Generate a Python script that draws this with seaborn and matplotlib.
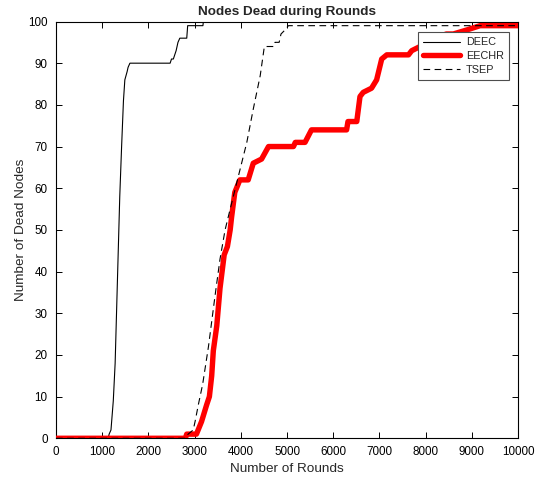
import matplotlib
matplotlib.use("Agg")
import matplotlib.pyplot as plt
import seaborn as sns
import pandas as pd

# ---- data ----
deec_rounds = [0, 1130, 1150, 1190, 1240, 1280, 1330, 1380, 1420, 1460, 1490, 1540, 1560,
               1600, 2470, 2500, 2540, 2600, 2640, 2680, 2830, 2850, 3180, 3190, 10000]
deec_dead = [0, 0, 1, 2, 9, 18, 38, 58, 70, 81, 86, 88, 89,
             90, 90, 91, 91, 93, 95, 96, 96, 99, 99, 100, 100]

eechr_rounds = [0, 2800, 2830, 3040, 3150, 3260, 3320, 3370, 3405, 3480, 3550, 3640, 3710,
                3770, 3800, 3870, 3980, 4160, 4270, 4450, 4600, 5140, 5180, 5390, 5530,
                6290, 6320, 6510, 6580, 6650, 6830, 6940, 7050, 7160, 7630, 7700, 7880,
                8000, 8200, 8450, 8600, 8900, 9180, 10000]
eechr_dead = [0, 0, 1, 1, 4, 8, 10, 15, 21, 27, 36, 44, 46,
              50, 53, 59, 62, 62, 66, 67, 70, 70, 71, 71, 74,
              74, 76, 76, 82, 83, 84, 86, 91, 92, 92, 93, 94,
              95, 96, 97, 97, 98, 99, 99]

tsep_rounds = [0, 2790, 2860, 2970, 3010, 3080, 3175, 3300, 3440, 3550, 3660, 3770, 3950,
               4130, 4270, 4420, 4510, 4720, 4740, 4830, 4870, 4960, 5030, 10000]
tsep_dead = [0, 0, 1, 2, 4, 8, 13, 22, 34, 43, 50, 55, 63,
             71, 79, 87, 94, 94, 95, 95, 97, 98, 99, 99]

series_names = ["DEEC", "EECHR", "TSEP"]
title = "Nodes Dead during Rounds"
xlabel = "Number of Rounds"
ylabel = "Number of Dead Nodes"
xticks = list(range(0, 10001, 1000))
yticks = list(range(0, 101, 10))

# ---- style ----
sns.set_style("ticks")
plt.rcParams["font.family"] = ["Liberation Sans", "DejaVu Sans"]

W, H = 543, 479
fig = plt.figure(figsize=(W / 100, H / 100), dpi=100)
fig.patch.set_facecolor("white")
ax = fig.add_axes([56 / W, 1 - 438.3 / H, (518 - 56) / W, (438.3 - 21.5) / H])

df_deec = pd.DataFrame({"x": deec_rounds, "y": deec_dead})
df_eechr = pd.DataFrame({"x": eechr_rounds, "y": eechr_dead})
df_tsep = pd.DataFrame({"x": tsep_rounds, "y": tsep_dead})

sns.lineplot(data=df_deec, x="x", y="y", ax=ax, color="black", linewidth=0.8,
             estimator=None, label=series_names[0], zorder=2)
sns.lineplot(data=df_eechr, x="x", y="y", ax=ax, color="#ff0000", linewidth=3.9,
             estimator=None, label=series_names[1], zorder=3)
sns.lineplot(data=df_tsep, x="x", y="y", ax=ax, color="black", linewidth=0.8,
             estimator=None, label=series_names[2], zorder=4)
ax.lines[-1].set_dashes((6, 4))

ax.set_xlim(0, 10000)
ax.set_ylim(0, 100)
ax.set_xticks(xticks)
ax.set_yticks(yticks)
ax.tick_params(direction="in", top=True, right=True, length=4, width=0.7,
               labelsize=8.4, colors="black")
ax.tick_params(axis="x", pad=5.5)
ax.tick_params(axis="y", pad=6)
for s in ax.spines.values():
    s.set_visible(True)
    s.set_color("black")
    s.set_linewidth(0.8)

ax.set_title(title, fontsize=9.7, fontweight="bold", pad=5)
ax.set_xlabel(xlabel, fontsize=9.7, labelpad=3.5)
ax.set_ylabel(ylabel, fontsize=9.7, labelpad=1)

handles, labels = ax.get_legend_handles_labels()
handles[2].set_dashes((6, 4))
leg = ax.legend(handles, labels, loc="upper right",
                bbox_to_anchor=(509 / W, 1 - 32 / H), bbox_transform=fig.transFigure,
                borderaxespad=0, fontsize=7.8, frameon=True, fancybox=False,
                framealpha=1, edgecolor="0.3", handlelength=3.4,
                labelspacing=0.35, borderpad=0.5, handletextpad=0.5)
leg.get_frame().set_linewidth(0.8)

fig.savefig("out.png", dpi=100, facecolor="white")
